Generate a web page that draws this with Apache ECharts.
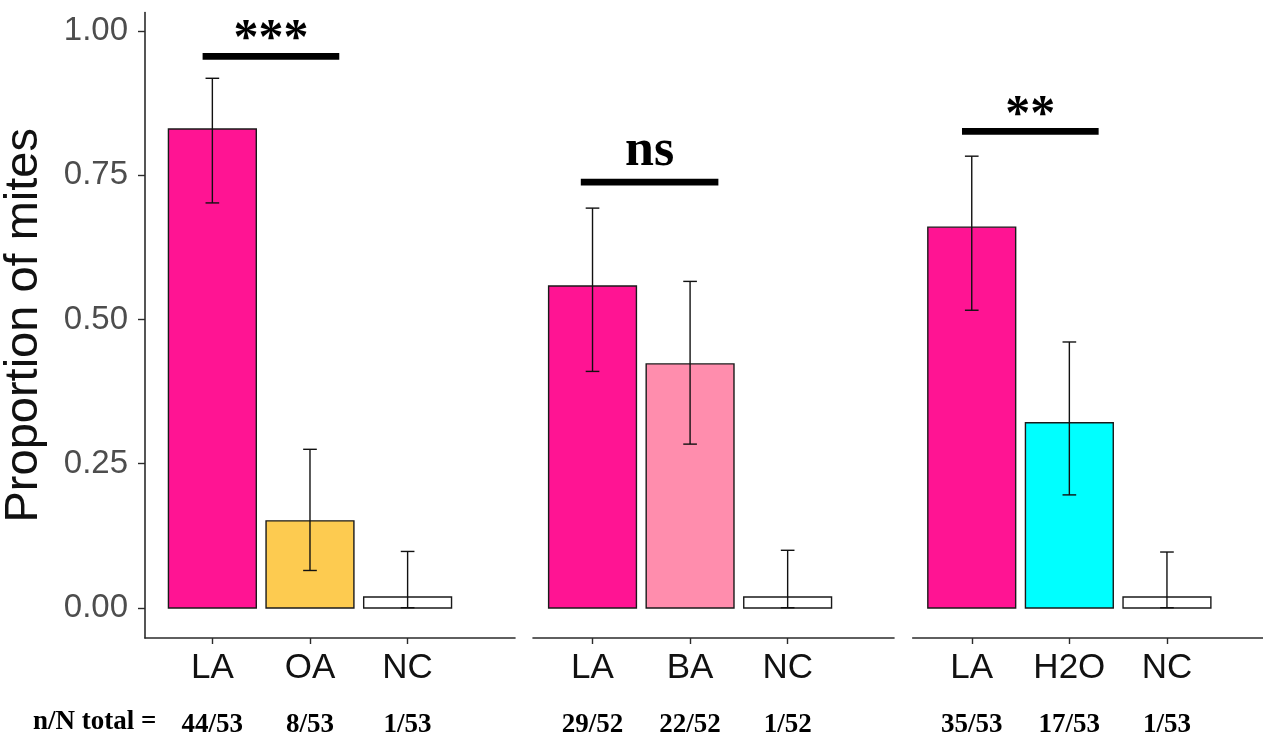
<!DOCTYPE html>
<html>
<head>
<meta charset="utf-8">
<script src="https://cdn.jsdelivr.net/npm/echarts@6.0.0/dist/echarts.min.js"></script>
<style>
  html, body { margin: 0; padding: 0; background: #ffffff; }
  #chart { width: 1263px; height: 735px; }
</style>
</head>
<body>
<div id="chart"></div>
<script>
// ---------------- data ----------------
const categories1 = ['LA', 'OA', 'NC'];
const categories2 = ['LA', 'BA', 'NC'];
const categories3 = ['LA', 'H2O', 'NC'];

const proportion1 = [0.830, 0.151, 0.019];
const proportion2 = [0.558, 0.423, 0.019];
const proportion3 = [0.660, 0.321, 0.019];

const errLow1 = [0.702, 0.065, 0.0005];
const errHigh1 = [0.918, 0.275, 0.098];
const errLow2 = [0.410, 0.284, 0.0005];
const errHigh2 = [0.693, 0.566, 0.100];
const errLow3 = [0.516, 0.196, 0.0005];
const errHigh3 = [0.783, 0.461, 0.097];

const counts1 = ['44/53', '8/53', '1/53'];
const counts2 = ['29/52', '22/52', '1/52'];
const counts3 = ['35/53', '17/53', '1/53'];

const sigLabels = ['***', 'ns', '**'];
const sigFrom = [-0.10, -0.12, -0.10];
const sigTo = [1.30, 1.29, 1.30];
const sigHeight = [0.956, 0.738, 0.826];

const yTicks = [0, 0.25, 0.5, 0.75, 1.0];
const yAxisTitle = 'Proportion of mites';
const countsTitle = 'n/N total =';

// ---------------- styles ----------------
const colors1 = ['#FF1493', '#FDCB50', '#FFFFFF'];
const colors2 = ['#FF1493', '#FF8DAD', '#FFFFFF'];
const colors3 = ['#FF1493', '#00FFFF', '#FFFFFF'];

const panels = [
  { cats: categories1, vals: proportion1, lo: errLow1, hi: errHigh1, counts: counts1, colors: colors1,
    grid: { left: 145, width: 370 }, xmin: -0.69, xmax: 3.10, sigFont: 50, sigOff: 9 },
  { cats: categories2, vals: proportion2, lo: errLow2, hi: errHigh2, counts: counts2, colors: colors2,
    grid: { left: 533, width: 361 }, xmin: -0.61, xmax: 3.09, sigFont: 52, sigOff: -5 },
  { cats: categories3, vals: proportion3, lo: errLow3, hi: errHigh3, counts: counts3, colors: colors3,
    grid: { left: 912.7, width: 350.3 }, xmin: -0.605, xmax: 2.984, sigFont: 50, sigOff: 10 }
];

const Y_MIN = -0.052, Y_MAX = 1.032;
const AXIS_COLOR = '#2b2b2b';
const BAR_WIDTH = 0.9;
const CAP_HALF = 0.07;

const grids = [], xAxes = [], yAxes = [], series = [];

panels.forEach((p, i) => {
  grids.push({ left: p.grid.left, width: p.grid.width, top: 12.5, bottom: 97,
               containLabel: false, outerBoundsMode: 'none' });

  xAxes.push({
    type: 'value', gridIndex: i, min: p.xmin, max: p.xmax,
    splitLine: { show: false },
    axisLine: { show: true, onZero: false, lineStyle: { color: AXIS_COLOR, width: 1.6 } },
    axisTick: { show: true, length: 6, customValues: [0, 1, 2], lineStyle: { color: AXIS_COLOR, width: 1.4 } },
    axisLabel: {
      show: true, margin: 10, customValues: [0, 1, 2],
      formatter: v => { const k = Math.round(v); return '{c|' + p.cats[k] + '}\n{n|' + p.counts[k] + '}'; },
      rich: {
        c: { fontFamily: 'Liberation Sans', fontSize: 35, color: '#111111', lineHeight: 40 },
        n: { fontFamily: 'Liberation Serif', fontWeight: 'bold', fontSize: 27, color: '#000000', lineHeight: 74 }
      }
    }
  });

  yAxes.push(i === 0 ? {
    type: 'value', gridIndex: i, min: Y_MIN, max: Y_MAX,
    name: yAxisTitle, nameLocation: 'middle', nameRotate: 90, nameGap: 97,
    nameTextStyle: { fontFamily: 'Liberation Sans', fontSize: 47, color: '#111111' },
    splitLine: { show: false },
    axisLine: { show: true, onZero: false, lineStyle: { color: AXIS_COLOR, width: 1.6 } },
    axisTick: { show: true, length: 7, customValues: yTicks, lineStyle: { color: AXIS_COLOR, width: 1.4 } },
    axisLabel: {
      show: true, margin: 17, customValues: yTicks,
      formatter: v => v.toFixed(2),
      fontFamily: 'Liberation Sans', fontSize: 33, color: '#4d4d4d'
    }
  } : {
    type: 'value', gridIndex: i, min: Y_MIN, max: Y_MAX, show: false,
    splitLine: { show: false }
  });

  // bars + error bars
  series.push({
    type: 'custom', xAxisIndex: i, yAxisIndex: i, silent: true,
    data: p.vals.map((v, k) => [k, v, p.lo[k], p.hi[k]]),
    renderItem: (params, api) => {
      const x = api.value(0), v = api.value(1), lo = api.value(2), hi = api.value(3);
      const a = api.coord([x - BAR_WIDTH / 2, v]);
      const b = api.coord([x + BAR_WIDTH / 2, 0]);
      const pHi = api.coord([x, hi]), pLo = api.coord([x, lo]);
      const cL = api.coord([x - CAP_HALF, hi])[0], cR = api.coord([x + CAP_HALF, hi])[0];
      const es = { stroke: '#111111', lineWidth: 1.4 };
      return {
        type: 'group', children: [
          { type: 'rect', shape: { x: a[0], y: a[1], width: b[0] - a[0], height: b[1] - a[1] },
            style: { fill: p.colors[params.dataIndex], stroke: '#1a1a1a', lineWidth: 1.4 } },
          { type: 'line', shape: { x1: pHi[0], y1: pHi[1], x2: pLo[0], y2: pLo[1] }, style: es },
          { type: 'line', shape: { x1: cL, y1: pHi[1], x2: cR, y2: pHi[1] }, style: es },
          { type: 'line', shape: { x1: cL, y1: pLo[1], x2: cR, y2: pLo[1] }, style: es }
        ]
      };
    }
  });

  // significance bar
  series.push({
    type: 'custom', xAxisIndex: i, yAxisIndex: i, silent: true,
    data: [[sigFrom[i], sigTo[i], sigHeight[i]]],
    renderItem: (params, api) => {
      const p0 = api.coord([api.value(0), api.value(2)]);
      const p1 = api.coord([api.value(1), api.value(2)]);
      return {
        type: 'group', children: [
          { type: 'line', shape: { x1: p0[0], y1: p0[1], x2: p1[0], y2: p1[1] },
            style: { stroke: '#000000', lineWidth: 6.7 } },
          { type: 'text', x: (p0[0] + p1[0]) / 2, y: p0[1] + p.sigOff,
            style: { text: sigLabels[i], fontFamily: 'Liberation Serif', fontWeight: 'bold',
                     fontSize: p.sigFont, fill: '#000000', align: 'center', verticalAlign: 'bottom' } }
        ]
      };
    }
  });
});

const chart = echarts.init(document.getElementById('chart'), null, { renderer: 'canvas' });
chart.setOption({
  animation: false,
  backgroundColor: '#ffffff',
  title: {
    text: countsTitle, left: 33, top: 709, padding: 0,
    textStyle: { fontFamily: 'Liberation Serif', fontWeight: 'bold', fontSize: 27, color: '#000000' }
  },
  grid: grids,
  xAxis: xAxes,
  yAxis: yAxes,
  series: series
});
</script>
</body>
</html>
